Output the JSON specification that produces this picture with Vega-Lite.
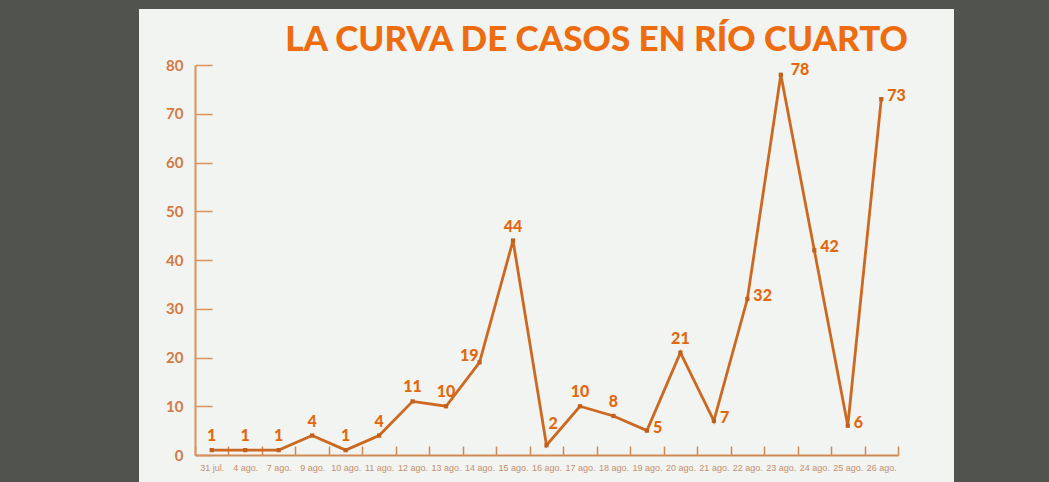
{
  "$schema": "https://vega.github.io/schema/vega-lite/v6.json",
  "autosize": {"type": "none"},
  "width": 703,
  "height": 390,
  "padding": {"left": 195, "top": 65, "right": 151, "bottom": 27},
  "background": "#50534E",
  "config": {
    "view": {"fill": "#F1F4F1", "stroke": "#F1F4F1", "strokeWidth": 112}
  },
  "title": {
    "text": "LA CURVA DE CASOS EN RÍO CUARTO",
    "anchor": "end",
    "frame": "group",
    "font": "Lato",
    "fontWeight": 900,
    "fontSize": 35,
    "color": "#EE6C10",
    "baseline": "alphabetic",
    "offset": 13,
    "dx": 10,
    "dy": 41
  },
  "data": {
    "values": [
      {"fecha": "31 jul.", "casos": 1},
      {"fecha": "4 ago.", "casos": 1},
      {"fecha": "7 ago.", "casos": 1},
      {"fecha": "9 ago.", "casos": 4},
      {"fecha": "10 ago.", "casos": 1},
      {"fecha": "11 ago.", "casos": 4},
      {"fecha": "12 ago.", "casos": 11},
      {"fecha": "13 ago.", "casos": 10},
      {"fecha": "14 ago.", "casos": 19},
      {"fecha": "15 ago.", "casos": 44},
      {"fecha": "16 ago.", "casos": 2},
      {"fecha": "17 ago.", "casos": 10},
      {"fecha": "18 ago.", "casos": 8},
      {"fecha": "19 ago.", "casos": 5},
      {"fecha": "20 ago.", "casos": 21},
      {"fecha": "21 ago.", "casos": 7},
      {"fecha": "22 ago.", "casos": 32},
      {"fecha": "23 ago.", "casos": 78},
      {"fecha": "24 ago.", "casos": 42},
      {"fecha": "25 ago.", "casos": 6},
      {"fecha": "26 ago.", "casos": 73}
    ]
  },
  "encoding": {
    "x": {
      "field": "fecha",
      "type": "ordinal",
      "sort": null,
      "scale": {"paddingInner": 0, "paddingOuter": 0},
      "axis": {
        "title": null,
        "labelAngle": 0,
        "labelFont": "Liberation Sans",
        "labelFontSize": 9,
        "labelColor": "#C68E6C",
        "labelPadding": 17,
        "tickBand": "extent",
        "tickSize": -9,
        "tickColor": "#D08A55",
        "tickWidth": 1.5,
        "domainColor": "#D08A55",
        "domainWidth": 2
      }
    },
    "y": {
      "field": "casos",
      "type": "quantitative",
      "scale": {"domain": [0, 80]},
      "axis": {
        "title": null,
        "values": [0, 10, 20, 30, 40, 50, 60, 70, 80],
        "grid": false,
        "labelFont": "Lato",
        "labelFontWeight": "bold",
        "labelFontSize": 15,
        "labelColor": "#D27A45",
        "labelPadding": 29,
        "tickSize": -17,
        "tickColor": "#D9925E",
        "tickWidth": 1.5,
        "domainColor": "#D9925E",
        "domainWidth": 2
      }
    }
  },
  "layer": [
    {
      "mark": {"type": "line", "color": "#CD6820", "strokeWidth": 2.8}
    },
    {
      "mark": {"type": "point", "shape": "square", "filled": true, "size": 18, "color": "#C0601E", "opacity": 1}
    },
    {
      "transform": [{"filter": {"field": "fecha", "oneOf": ["31 jul.", "4 ago.", "7 ago.", "9 ago.", "10 ago.", "11 ago.", "12 ago.", "13 ago.", "15 ago.", "17 ago.", "18 ago.", "20 ago."]}}],
      "mark": {"type": "text", "font": "Lato", "fontWeight": 900, "fontSize": 16, "color": "#E2680F", "baseline": "middle", "align": "center", "dy": -14},
      "encoding": {"text": {"field": "casos", "type": "quantitative"}}
    },
    {
      "transform": [{"filter": {"field": "fecha", "oneOf": ["19 ago.", "21 ago.", "22 ago.", "24 ago.", "25 ago.", "26 ago."]}}],
      "mark": {"type": "text", "font": "Lato", "fontWeight": 900, "fontSize": 16, "color": "#E2680F", "baseline": "middle", "align": "left", "dx": 6, "dy": -3},
      "encoding": {"text": {"field": "casos", "type": "quantitative"}}
    },
    {
      "transform": [{"filter": {"field": "fecha", "equal": "23 ago."}}],
      "mark": {"type": "text", "font": "Lato", "fontWeight": 900, "fontSize": 16, "color": "#E2680F", "baseline": "middle", "align": "left", "dx": 10, "dy": -5},
      "encoding": {"text": {"field": "casos", "type": "quantitative"}}
    },
    {
      "transform": [{"filter": {"field": "fecha", "equal": "16 ago."}}],
      "mark": {"type": "text", "font": "Lato", "fontWeight": 900, "fontSize": 16, "color": "#E2680F", "baseline": "middle", "align": "left", "dx": 2, "dy": -21},
      "encoding": {"text": {"field": "casos", "type": "quantitative"}}
    },
    {
      "transform": [{"filter": {"field": "fecha", "equal": "14 ago."}}],
      "mark": {"type": "text", "font": "Lato", "fontWeight": 900, "fontSize": 16, "color": "#E2680F", "baseline": "middle", "align": "right", "dx": -1, "dy": -6},
      "encoding": {"text": {"field": "casos", "type": "quantitative"}}
    }
  ]
}
